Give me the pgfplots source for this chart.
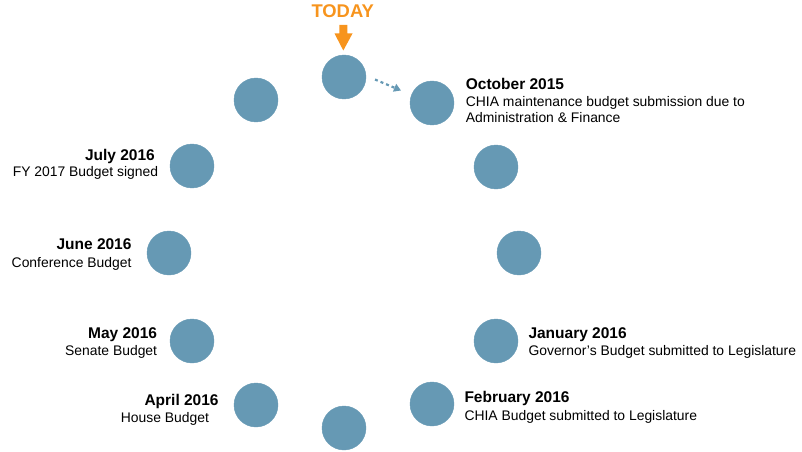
\documentclass[border=0pt]{standalone}
\usepackage{pgfplots}
\pgfplotsset{compat=1.18}
\usepackage{fontspec}
\setmainfont{Liberation Sans}
\usetikzlibrary{arrows.meta}
\definecolor{dotblue}{RGB}{102,153,180}
\definecolor{todayorange}{RGB}{247,148,29}
\newcommand{\hd}{\fontsize{15.5bp}{18bp}\selectfont\bfseries}
\newcommand{\tx}{\fontsize{13.9bp}{16bp}\selectfont}

\begin{document}
\begin{tikzpicture}
\begin{axis}[
  scale only axis, width=802bp, height=452bp,
  xmin=0, xmax=802, ymin=0, ymax=452, y dir=reverse,
  hide axis, clip=false,
]
% month dots round the year, pixel positions of the reference
\addplot[only marks, mark=*, mark size=22bp, mark options={draw=dotblue, fill=dotblue}] coordinates {
  (344,77) (432,103) (496,167) (519,253) (496,341) (432,404)
  (344,428) (256,405) (192,341) (169,253) (192,166) (256,100)
};

% today marker
\node[anchor=base, inner sep=0pt, text=todayorange] at (axis cs:342.7,17.3) {\fontsize{18.4bp}{21bp}\selectfont\bfseries TODAY};
\fill[todayorange] (axis cs:339.3,25) -- (axis cs:347.3,25) -- (axis cs:347.3,33.5) -- (axis cs:352.5,33.5)
  -- (axis cs:343.3,50.5) -- (axis cs:334.5,33.5) -- (axis cs:339.3,33.5) -- cycle;
\draw[dotblue, line width=2.2bp, dash pattern=on 3bp off 3bp, -{Triangle[length=7bp,width=8bp]}]
  (axis cs:375,79.5) -- (axis cs:401,90.5);

% right side labels
\node[anchor=base west, inner sep=0pt] at (axis cs:465.7,89.3) {\hd October 2015};
\node[anchor=base west, inner sep=0pt] at (axis cs:465.7,106.7) {\tx CHIA maintenance budget submission due to};
\node[anchor=base west, inner sep=0pt] at (axis cs:465.7,122.7) {\tx Administration \& Finance};

\node[anchor=base west, inner sep=0pt] at (axis cs:528.3,338.3) {\hd January 2016};
\node[anchor=base west, inner sep=0pt] at (axis cs:528.3,355.7) {\tx Governor’s Budget submitted to Legislature};

\node[anchor=base west, inner sep=0pt] at (axis cs:464.3,402.7) {\hd February 2016};
\node[anchor=base west, inner sep=0pt] at (axis cs:464.3,420) {\tx CHIA Budget submitted to Legislature};

% left side labels
\node[anchor=base east, inner sep=0pt] at (axis cs:155,160) {\hd July 2016};
\node[anchor=base east, inner sep=0pt] at (axis cs:158.3,176.7) {\tx FY 2017 Budget signed};

\node[anchor=base east, inner sep=0pt] at (axis cs:131.7,249.3) {\hd June 2016};
\node[anchor=base east, inner sep=0pt] at (axis cs:131.7,267.3) {\tx Conference Budget};

\node[anchor=base east, inner sep=0pt] at (axis cs:157.3,338.3) {\hd May 2016};
\node[anchor=base east, inner sep=0pt] at (axis cs:157.3,355.7) {\tx Senate Budget};

\node[anchor=base west, inner sep=0pt] at (axis cs:144.3,405) {\hd April 2016};
\node[anchor=base west, inner sep=0pt] at (axis cs:120.7,422.3) {\tx House Budget};
\end{axis}
\path (0,0) rectangle (802bp,452bp);
\end{tikzpicture}
\end{document}
